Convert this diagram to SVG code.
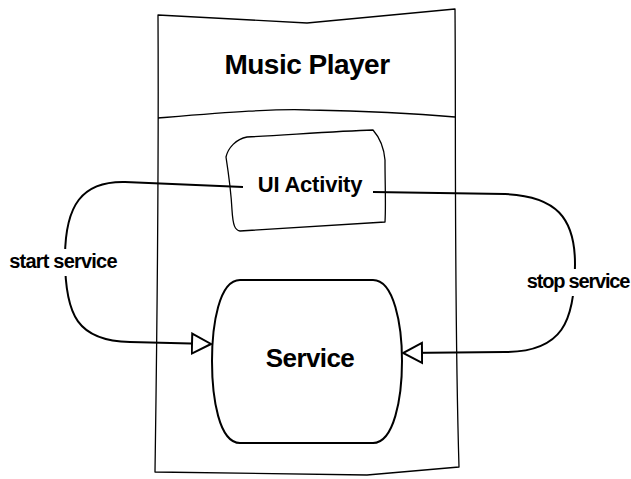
<svg xmlns="http://www.w3.org/2000/svg" width="631" height="479" viewBox="0 0 631 479">
  <defs>
    <style>
      .thin { fill: none; stroke: #000; stroke-width: 1.3; stroke-linejoin: round; }
      .node { fill: #fff; stroke: #000; stroke-width: 2; }
      .conn { fill: none; stroke: #000; stroke-width: 2; }
      .lbl { font-family: "Liberation Sans", Arial, sans-serif; font-weight: bold; fill: #000; }
      .bg { fill: #fff; stroke: none; }
    </style>
    <marker id="hollow" markerUnits="userSpaceOnUse" markerWidth="22" markerHeight="24" refX="19" refY="10" orient="auto" viewBox="-1 -1 22 22">
      <path d="M0,0 L19,10 L0,20 Z" fill="#fff" stroke="#000" stroke-width="2"/>
    </marker>
  </defs>
  <rect width="631" height="479" fill="#fff"/>

  <g id="music-player">
    <path class="thin" d="M158,15 L307,23 L455,9 C456,120 454,300 459,467 L367,475 L155,472 C157,330 159,200 158,15 Z"/>
    <path class="thin" d="M158,118 C220,113 280,108 310,110 C360,111 420,114 455,117"/>
    <text class="lbl" x="307" y="74" font-size="28" letter-spacing="-0.5" text-anchor="middle">Music Player</text>
  </g>

  <g id="ui-activity">
    <path class="thin" fill="#fff" d="M247,137 C300,134 340,131 373,130 C380,138 384,148 385,160 C385,185 386,205 385,222 C340,225 290,228 240,231 C235,230 233,226 232,210 C231,190 228,170 226,157 C228,148 236,139 247,137 Z"/>
  </g>

  <g id="service">
    <path class="node" d="M240,280 H373 C394,280 402,325 402,361 C402,398 394,443 373,443 H240 C219,443 212,398 212,361 C212,325 219,280 240,280 Z"/>
    <text class="lbl" x="310" y="367" font-size="26" letter-spacing="-0.6" text-anchor="middle">Service</text>
  </g>

  <g id="connectors">
    <path class="conn" d="M243,187 L125,182 C82,181 65,205 65,258 C65,316 78,341 130,342 L211,344" marker-end="url(#hollow)"/>
    <path class="conn" d="M373,192 L505,194 C556,196 575,218 575,264 C575,322 562,352 505,352 L403,353" marker-end="url(#hollow)"/>
    <rect class="bg" x="6" y="249" width="116" height="27"/>
    <text class="lbl" x="63" y="268" font-size="20" letter-spacing="-0.8" text-anchor="middle">start service</text>
    <rect class="bg" x="523" y="269" width="108" height="27"/>
    <text class="lbl" x="578" y="288" font-size="20" letter-spacing="-1.2" text-anchor="middle">stop service</text>
  </g>

  <g id="ui-activity-label">
    <rect class="bg" x="251" y="171" width="118" height="27"/>
    <text class="lbl" x="310" y="192" font-size="22" letter-spacing="-0.2" text-anchor="middle">UI Activity</text>
  </g>
</svg>
